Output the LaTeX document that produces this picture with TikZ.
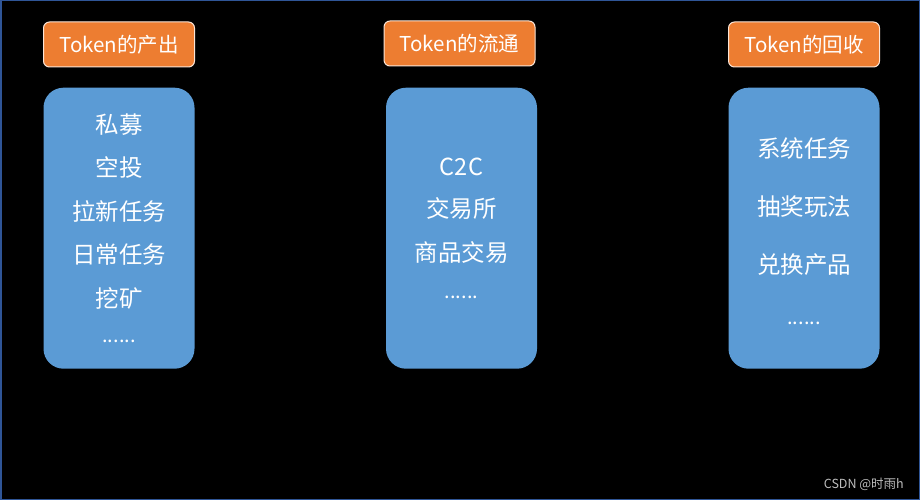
\documentclass[tikz,border=0pt]{standalone}
\usepackage{fontspec}
\setmainfont{Noto Sans CJK SC}
\usetikzlibrary{positioning}
\definecolor{tokenorange}{HTML}{ED7D31}
\definecolor{tokenblue}{HTML}{5B9BD5}
\definecolor{headline}{HTML}{FBE5D6}
\definecolor{framecol}{HTML}{2F5597}
\definecolor{markgray}{HTML}{BDBDBD}
\newcommand{\moredots}{{\fontsize{20}{20}\selectfont ......}}

\begin{document}
\begin{tikzpicture}
[x=1pt,y=-1pt,%
  every node/.style={text=white,inner sep=0pt},%
  header/.style={draw=headline,line width=1pt,fill=tokenorange,rounded corners=6pt,
    minimum width=151pt,minimum height=45pt,font=\fontsize{20.5}{24}\selectfont},%
  listbox/.style={fill=tokenblue,rounded corners=20pt,
    minimum width=151pt,minimum height=281pt,align=center}]
\useasboundingbox (0,0) rectangle (920,500);
\fill[black] (0,0) rectangle (920,500);
\draw[framecol,line width=1.5pt] (0.75,0.75) rectangle (919.25,499.25);
% headers
\node[header] (out) at (119,44.5) {Token的产出};
\node[header] (flow) at (459.5,43.5) {Token的流通};
\node[header] (back) at (804,44.5) {Token的回收};
% lists
\node[listbox,below=20pt of out,font=\fontsize{23.5}{43.5}\selectfont] (outlist)
  {私募\\空投\\拉新任务\\日常任务\\挖矿\\[-8pt]\moredots};
\node[listbox,below=21pt of flow,xshift=2pt,font=\fontsize{23.5}{43.5}\selectfont,
  text depth=0pt] (flowlist)
  {\raisebox{-1pt}{C2C}\\交易所\\商品交易\\[-6pt]\moredots};
\node[listbox,below=20pt of back,font=\fontsize{23.5}{58}\selectfont] (backlist)
  {\rule{0pt}{26pt}系统任务\\抽奖玩法\\兑换产品\\[-6.5pt]\moredots};
\node[text=markgray,font=\fontsize{12.5}{14}\selectfont,anchor=east] (mark)
  at (904,484) {CSDN @时雨h};
\end{tikzpicture}
\end{document}
